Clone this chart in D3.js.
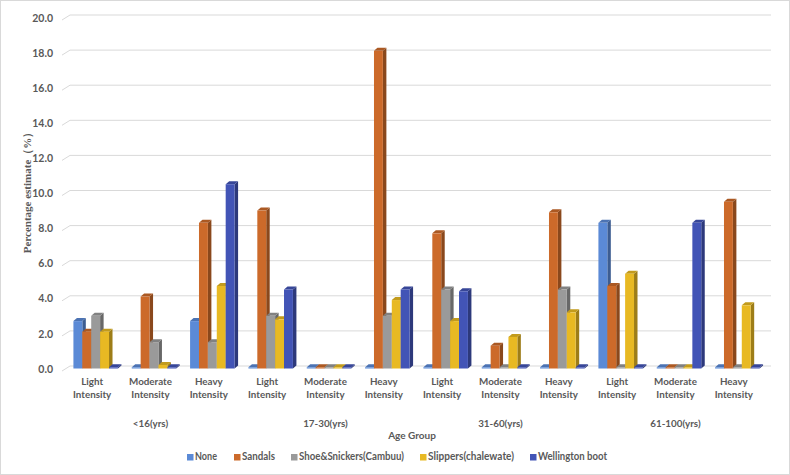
<!DOCTYPE html>
<html><head><meta charset="utf-8">
<script src="https://cdn.jsdelivr.net/npm/d3@7/dist/d3.min.js"></script>
<style>body{margin:0;background:#fff}svg{display:block}text{font-family:Lato,"Open Sans",sans-serif;font-weight:bold;fill:#595959}</style>
</head><body><svg id="c" width="790" height="475"></svg>
<script>
const intensities = ["Light Intensity","Moderate Intensity","Heavy Intensity","Light Intensity","Moderate Intensity","Heavy Intensity","Light Intensity","Moderate Intensity","Heavy Intensity","Light Intensity","Moderate Intensity","Heavy Intensity"];
const ageGroups = ["<16(yrs)","17-30(yrs)","31-60(yrs)","61-100(yrs)"];
const seriesNames = ["None","Sandals","Shoe&Snickers(Cambuu)","Slippers(chalewate)","Wellington boot"];
const noneVals       = [2.7,0,2.7,0,0,0,0,0,0,8.3,0,0];
const sandalsVals    = [2.1,4.1,8.3,9.0,0,18.1,7.7,1.3,8.9,4.7,0,9.5];
const shoeVals       = [3.0,1.5,1.5,3.0,0,3.0,4.5,0,4.5,0,0,0];
const slippersVals   = [2.1,0.2,4.7,2.8,0,3.9,2.7,1.8,3.2,5.4,0,3.6];
const wellingtonVals = [0,0,10.5,4.5,0,4.5,4.4,0,0,0,8.3,0];
const yTicks = [0,2,4,6,8,10,12,14,16,18,20];
const colors = ["#5b8ad6","#cc6a2a","#9a9a9a","#e8b923","#4254b6"];

const series = [noneVals,sandalsVals,shoeVals,slippersVals,wellingtonVals];
const svg = d3.select("#c");
svg.append("rect").attr("x",0.5).attr("y",0.5).attr("width",789).attr("height",474).attr("fill","#fff").attr("stroke","#d9d9d9");

const y = d3.scaleLinear().domain([0,20]).range([366,15]);
const cats = intensities.map((d,i)=>i);
const x0 = d3.scaleBand().domain(cats).range([63,763]);
const x1 = d3.scaleBand().domain(d3.range(5)).range([0,44.5]);
const DX = 3.5, DY = 3, FRONT = 2.5;

const g = svg.append("g");
yTicks.forEach(t=>{
  const yy = y(t);
  g.append("path").attr("d",`M62,${yy+5}L70,${yy}L771,${yy}`).attr("fill","none").attr("stroke","#d9d9d9").attr("stroke-width",1);
  svg.append("text").attr("x",53).attr("y",yy+4).attr("text-anchor","end").attr("dominant-baseline","middle").attr("font-size",10.5).text(t.toFixed(1));
});

const bars = svg.append("g");
cats.forEach(ci=>{
  series.forEach((vals,si)=>{
    const v = vals[ci];
    const c = d3.color(colors[si]);
    const xl = x0(ci) + x0.bandwidth()/2 + 3.5 - 22.25 + x1(si);
    const w = x1.bandwidth();
    const yb = y(0)+FRONT;
    let yt = y(v)+FRONT;
    if (yb - yt < 1.2) yt = yb - 1.2;
    bars.append("path").attr("d",`M${xl+w},${yt}L${xl+w+DX},${yt-DY}L${xl+w+DX},${yb-DY}L${xl+w},${yb}Z`).attr("fill",c.darker(1.1));
    bars.append("path").attr("d",`M${xl},${yt}L${xl+DX},${yt-DY}L${xl+w+DX},${yt-DY}L${xl+w},${yt}Z`).attr("fill",c.darker(0.5));
    bars.append("rect").attr("x",xl).attr("y",yt).attr("width",w).attr("height",yb-yt).attr("fill",c);
  });
});

intensities.forEach((lab,i)=>{
  const cx = x0(i)+x0.bandwidth()/2;
  const parts = lab.split(" ");
  const t = svg.append("text").attr("x",cx).attr("y",385).attr("text-anchor","middle").attr("font-size",9.8);
  t.append("tspan").attr("x",cx).attr("dy",0).text(parts[0]);
  t.append("tspan").attr("x",cx).attr("dy",12.5).text(parts[1]);
});
ageGroups.forEach((lab,i)=>{
  const cx = x0(i*3+1)+x0.bandwidth()/2;
  svg.append("text").attr("x",cx).attr("y",427).attr("text-anchor","middle").attr("font-size",9.8).text(lab);
});
svg.append("text").attr("x",412).attr("y",439).attr("text-anchor","middle").attr("font-size",10).text("Age Group");

svg.append("text").attr("transform","translate(31,190) rotate(-90)").attr("text-anchor","middle")
  .style("font-family","'Liberation Serif','DejaVu Serif',serif").style("font-weight","bold").attr("font-size",11).text("Percentage estimate（%）");

const legX = [187,234,291,420,530];
const legW = [22,33,105,86,69];
seriesNames.forEach((n,i)=>{
  svg.append("rect").attr("x",legX[i]).attr("y",454).attr("width",6.5).attr("height",6.5).attr("fill",colors[i]);
  svg.append("text").attr("x",legX[i]+8).attr("y",457.5).attr("dominant-baseline","middle").attr("font-size",10.5)
    .attr("textLength",legW[i]).attr("lengthAdjust","spacingAndGlyphs").text(n);
});
</script></body></html>
